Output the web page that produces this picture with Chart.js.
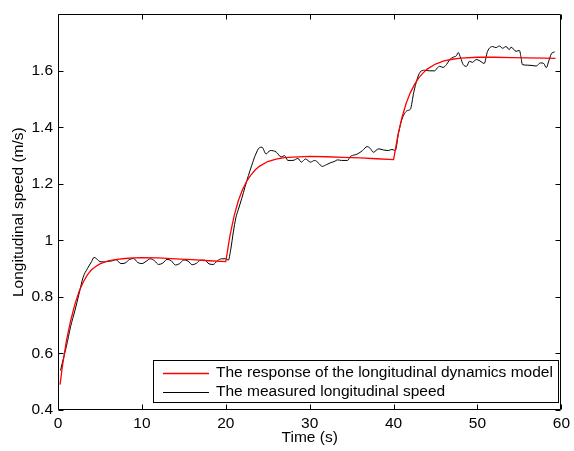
<!DOCTYPE html>
<html>
<head>
<meta charset="utf-8">
<script src="https://cdn.jsdelivr.net/npm/chart.js@4/dist/chart.umd.min.js"></script>
<style>
  body { margin: 0; background: #fff; }
  canvas { display: block; }
</style>
</head>
<body>
<canvas id="speedChart" width="574" height="451"></canvas>
<script>
// model response: three first-order steps at 0 s, 20 s and 40 s
let modelTime = [0.25, 0.5, 1, 1.5, 2, 2.5, 3, 3.5, 4, 4.5, 5, 6, 7, 8, 9, 10, 12, 14, 16, 18, 20,
  20.5, 21, 21.5, 22, 22.5, 23, 23.5, 24, 25, 26, 27, 28, 30, 32, 34, 36, 38, 40,
  40.5, 41, 41.5, 42, 42.5, 43, 43.5, 44, 45, 46, 47, 48, 50, 52, 54, 56, 58, 59.3];
let modelSpeed = [0.49, 0.55, 0.645, 0.715, 0.773, 0.818, 0.852, 0.878, 0.896, 0.908, 0.917, 0.928, 0.933, 0.936, 0.938, 0.939, 0.938, 0.935, 0.932, 0.928, 0.925,
  1.018, 1.088, 1.141, 1.180, 1.210, 1.232, 1.249, 1.262, 1.279, 1.288, 1.293, 1.295, 1.297, 1.296, 1.294, 1.292, 1.289, 1.286,
  1.370, 1.435, 1.485, 1.523, 1.552, 1.575, 1.592, 1.606, 1.624, 1.635, 1.641, 1.645, 1.648, 1.648, 1.647, 1.646, 1.645, 1.644];

// measured speed from the vehicle
let measuredTime = [0.3, 0.5, 1, 1.5, 2, 2.5, 3, 3.5, 4, 4.3, 4.6, 5, 5.5, 6, 6.5, 6.9, 7.5, 8, 8.5, 9, 9.5, 10,
  10.5, 11, 11.5, 12, 12.5, 13, 13.5, 14, 14.5, 15, 15.5, 16, 16.5, 17, 17.5, 18, 18.5, 19, 19.5, 20,
  20.3, 20.6, 20.9, 21.2, 21.5, 21.9, 22.3, 22.7, 23.1, 23.5, 24, 24.3, 24.8, 25.3, 26, 26.6, 27, 27.4,
  28, 28.6, 29, 29.5, 30.1, 30.6, 31, 31.5, 32, 32.5, 33, 33.3, 33.8, 34.5, 34.9, 35.3, 35.7, 36.3,
  36.85, 37.2, 37.6, 38.2, 38.8, 39.4, 39.8, 40.2, 40.6, 41, 41.4, 41.7, 42, 42.4, 42.8, 43.15, 43.7,
  44.3, 44.9, 45.2, 45.5, 45.9, 46.3, 46.7, 47.1, 47.5, 47.7, 48, 48.3, 48.7, 49.05, 49.4, 49.85, 50.3,
  50.8, 51.2, 51.8, 52.2, 52.6, 53, 53.4, 53.8, 54, 54.6, 55, 55.2, 55.35, 56, 56.5, 57, 57.5, 57.9,
  58.2, 58.5, 58.8, 59.2];
let measuredSpeed = [0.54, 0.565, 0.625, 0.695, 0.75, 0.81, 0.87, 0.90, 0.925, 0.94, 0.935, 0.925, 0.924, 0.926, 0.928, 0.932, 0.918, 0.920, 0.932, 0.936, 0.922, 0.918,
  0.926, 0.935, 0.928, 0.915, 0.920, 0.933, 0.928, 0.913, 0.918, 0.931, 0.927, 0.914, 0.919, 0.930, 0.930, 0.917, 0.915, 0.928, 0.935, 0.935,
  0.930, 0.97, 1.03, 1.08, 1.11, 1.148, 1.19, 1.23, 1.266, 1.30, 1.328, 1.33, 1.306, 1.318, 1.313, 1.295, 1.30, 1.283,
  1.283, 1.29, 1.277, 1.288, 1.277, 1.283, 1.275, 1.262, 1.268, 1.275, 1.28, 1.285, 1.283, 1.283, 1.298, 1.302, 1.306, 1.318,
  1.332, 1.326, 1.312, 1.324, 1.32, 1.318, 1.322, 1.318, 1.382, 1.429, 1.453, 1.46, 1.464, 1.523, 1.57, 1.595, 1.602,
  1.60, 1.60, 1.61, 1.616, 1.612, 1.622, 1.64, 1.648, 1.654, 1.665, 1.645, 1.622, 1.616, 1.634, 1.63, 1.64, 1.635,
  1.626, 1.669, 1.686, 1.682, 1.688, 1.68, 1.686, 1.675, 1.684, 1.669, 1.672, 1.646, 1.622, 1.62, 1.619, 1.617, 1.628, 1.626,
  1.611, 1.635, 1.66, 1.667];

let xTicks = [0, 10, 20, 30, 40, 50, 60];
let yTicks = [0.4, 0.6, 0.8, 1, 1.2, 1.4, 1.6];

let seriesColors = ['#ff0000', '#000000'];

const font = { family: "'Liberation Sans', Arial, sans-serif", size: 15.5 };

function toPoints(xs, ys) {
  return xs.map((x, i) => ({ x: x, y: ys[i] }));
}

// box round the plot with inward ticks on all four sides, plus the boxed legend
const framePlugin = {
  id: 'frame',
  afterDatasetsDraw(chart) {
    const { ctx, chartArea: a, scales: { x, y } } = chart;
    const L = Math.round(a.left) + 0.5, R = Math.round(a.right) - 0.5;
    const T = Math.round(a.top) + 0.5, B = Math.round(a.bottom) - 0.5;
    ctx.save();
    ctx.strokeStyle = '#000';
    ctx.lineWidth = 1;
    ctx.beginPath();
    ctx.rect(L, T, R - L, B - T);
    xTicks.forEach(v => {
      const px = Math.round(x.getPixelForValue(v)) + 0.5;
      ctx.moveTo(px, B); ctx.lineTo(px, B - 5);
      ctx.moveTo(px, T); ctx.lineTo(px, T + 5);
    });
    yTicks.forEach(v => {
      const py = Math.round(y.getPixelForValue(v)) + 0.5;
      ctx.moveTo(L, py); ctx.lineTo(L + 5, py);
      ctx.moveTo(R, py); ctx.lineTo(R - 5, py);
    });
    ctx.stroke();

    // legend
    const lx = 153.5, ly = 360.5, lw = 405, lh = 42;
    ctx.fillStyle = '#fff';
    ctx.fillRect(lx, ly, lw, lh);
    ctx.strokeStyle = '#000';
    ctx.lineWidth = 1;
    ctx.strokeRect(lx, ly, lw, lh);
    ctx.font = font.size + 'px ' + font.family;
    ctx.textBaseline = 'middle';
    chart.data.datasets.forEach((ds, i) => {
      const rowY = 373 + i * 19;
      ctx.beginPath();
      ctx.strokeStyle = seriesColors[i];
      ctx.lineWidth = ds.borderWidth;
      ctx.moveTo(163, rowY + 0.5);
      ctx.lineTo(209, rowY + 0.5);
      ctx.stroke();
      ctx.fillStyle = '#000';
      ctx.fillText(ds.label, 216, rowY);
    });
    ctx.restore();
  }
};

let speedChart = new Chart(document.getElementById('speedChart'), {
  type: 'line',
  data: {
    datasets: [
      {
        label: 'The response of the longitudinal dynamics model',
        data: toPoints(modelTime, modelSpeed),
        borderColor: seriesColors[0],
        borderWidth: 1.3,
        pointRadius: 0,
        tension: 0
      },
      {
        label: 'The measured longitudinal speed',
        data: toPoints(measuredTime, measuredSpeed),
        borderColor: seriesColors[1],
        borderWidth: 1,
        pointRadius: 0,
        cubicInterpolationMode: 'monotone'
      }
    ]
  },
  options: {
    responsive: false,
    animation: false,
    layout: { padding: { top: 11, right: 8, left: 0, bottom: 0 } },
    plugins: { legend: { display: false }, tooltip: { enabled: false } },
    scales: {
      x: {
        type: 'linear',
        min: 0,
        max: 60,
        afterBuildTicks: s => { s.ticks = xTicks.map(v => ({ value: v })); },
        afterFit: s => { s.height = 41; },
        ticks: { color: '#000', font: font, padding: 4, maxRotation: 0 },
        grid: { display: false, drawTicks: false },
        border: { display: false },
        title: { display: true, text: 'Time (s)', color: '#000', font: font, padding: { top: 0, bottom: 4 } }
      },
      y: {
        type: 'linear',
        min: 0.4,
        max: 1.8,
        afterBuildTicks: s => { s.ticks = yTicks.map(v => ({ value: v })); },
        afterFit: s => { s.width = 58; },
        ticks: { color: '#000', font: font, padding: 5, callback: v => String(+v.toFixed(1)) },
        grid: { display: false, drawTicks: false },
        border: { display: false },
        title: { display: true, text: 'Longitudinal speed (m/s)', color: '#000', font: font, padding: { top: 9, bottom: 0 } }
      }
    }
  },
  plugins: [framePlugin]
});
</script>
</body>
</html>
